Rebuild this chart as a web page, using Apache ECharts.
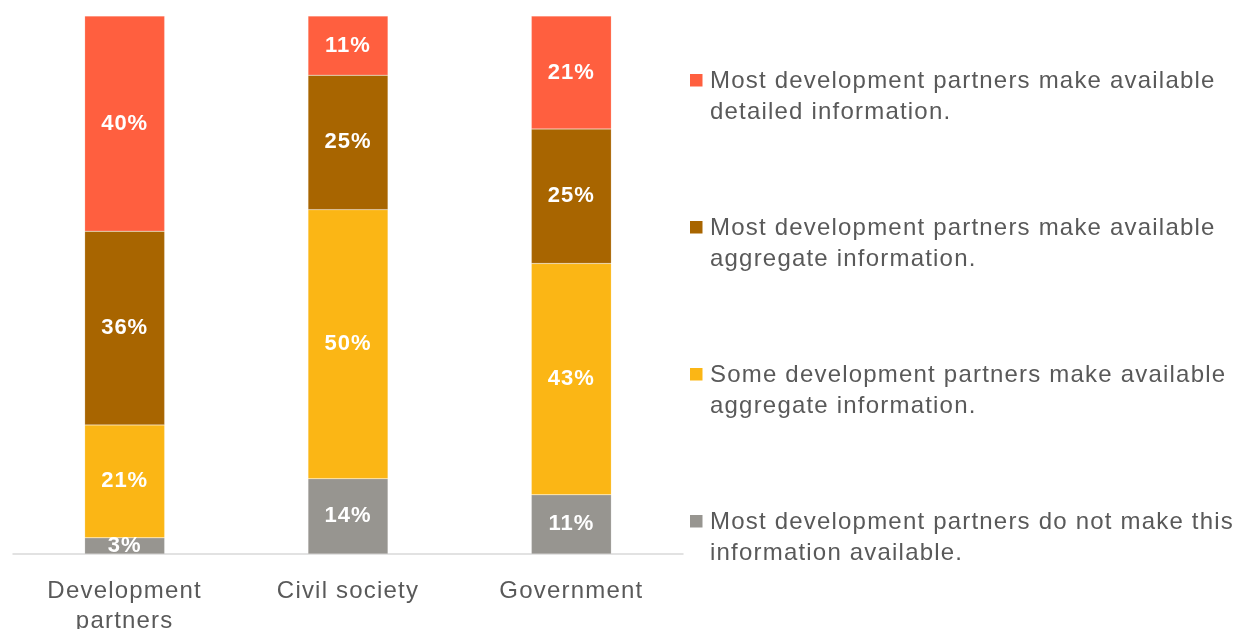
<!DOCTYPE html>
<html>
<head>
<meta charset="utf-8">
<script src="https://cdn.jsdelivr.net/npm/echarts@6/dist/echarts.min.js"></script>
<style>
  html, body { margin: 0; padding: 0; background: #ffffff; }
  #chart { width: 1236px; height: 629px; }
</style>
</head>
<body>
<div id="chart"></div>
<script>
// Respondent groups along the x axis
const categories = ['Development\npartners', 'Civil society', 'Government'];

// Shares of respondents (%) per answer, stacked bottom to top
const notAvailable = [3, 14, 11];
const someAggregate = [21, 50, 43];
const mostAggregate = [36, 25, 25];
const mostDetailed = [40, 11, 21];

// Answer labels, bottom of the stack first
const answerNames = [
  'Most development partners do not make this\ninformation available.',
  'Some development partners make available\naggregate information.',
  'Most development partners make available\naggregate information.',
  'Most development partners make available\ndetailed information.'
];
const answerColors = ['#979590', '#FBB615', '#A86500', '#FF5F3F'];
const answerValues = [notAvailable, someAggregate, mostAggregate, mostDetailed];

const FONT = '"Liberation Sans", Arial, sans-serif';
const TEXT_COLOR = '#595959';

// Slightly open tracking for all canvas text
const baseFillText = CanvasRenderingContext2D.prototype.fillText;
CanvasRenderingContext2D.prototype.fillText = function (text, x, y, maxWidth) {
  this.letterSpacing = /bold/.test(this.font) ? '1px' : '1.2px';
  return maxWidth === undefined
    ? baseFillText.call(this, text, x, y)
    : baseFillText.call(this, text, x, y, maxWidth);
};

const series = answerValues.map((vals, i) => ({
  name: answerNames[i].replace('\n', ' '),
  type: 'bar',
  stack: 'share',
  barWidth: 80,
  data: vals,
  itemStyle: { color: answerColors[i], borderColor: 'rgba(255,255,255,0.35)', borderWidth: 0.5 },
  label: {
    show: true,
    position: 'inside',
    formatter: '{c}%',
    color: '#ffffff',
    fontFamily: FONT,
    fontWeight: 'bold',
    fontSize: 22
  }
}));

// Legend drawn as a column on the right: marker aligned with the first text line
const legendTops = [80, 227, 374, 521];
const legendGraphics = [];
for (let k = 0; k < 4; k++) {
  const idx = 3 - k;
  const cy = legendTops[k];
  legendGraphics.push({
    type: 'rect',
    left: 690,
    top: cy - 6,
    shape: { width: 12.5, height: 12.5 },
    style: { fill: answerColors[idx] }
  });
  legendGraphics.push({
    type: 'text',
    left: 710,
    top: cy - 13.5,
    style: {
      text: answerNames[idx],
      fill: TEXT_COLOR,
      font: '24px ' + FONT,
      lineHeight: 30.5
    }
  });
}

const chart = echarts.init(document.getElementById('chart'), null, { renderer: 'canvas' });
chart.setOption({
  animation: false,
  backgroundColor: '#ffffff',
  grid: { left: 13, right: 553, top: 16, bottom: 75, containLabel: false, outerBoundsMode: 'none' },
  xAxis: {
    type: 'category',
    data: categories,
    axisLine: { show: true, lineStyle: { color: '#D9D9D9', width: 1.5 } },
    axisTick: { show: false },
    axisLabel: {
      color: TEXT_COLOR,
      fontFamily: FONT,
      fontSize: 24,
      lineHeight: 30,
      margin: 22,
      interval: 0
    }
  },
  yAxis: {
    type: 'value',
    min: 0,
    max: 100,
    show: false,
    splitLine: { show: false }
  },
  series: series,
  graphic: legendGraphics
});
</script>
</body>
</html>
